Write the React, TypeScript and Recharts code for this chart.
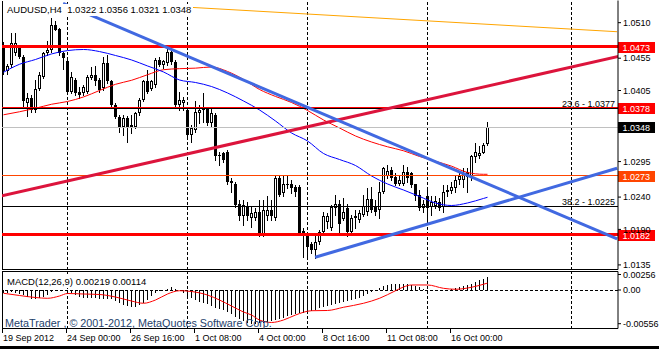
import React from "react";
import { Bar, ComposedChart, Line, ReferenceLine, XAxis, YAxis } from "recharts";

// AUDUSD H4 candles
const OPEN = [
  1.0474, 1.0435, 1.0444, 1.0463, 1.0473, 1.0457, 1.0386, 1.0394, 1.0375, 1.0408,
  1.0426, 1.0463, 1.0468, 1.0506, 1.05, 1.0463, 1.045, 1.0403, 1.0421, 1.0403,
  1.0401, 1.0403, 1.0424, 1.0429, 1.0421, 1.0409, 1.0448, 1.0419, 1.0383, 1.0364,
  1.0349, 1.0362, 1.0352, 1.0349, 1.037, 1.039, 1.0419, 1.0408, 1.0414, 1.0452,
  1.0444, 1.0448, 1.0465, 1.0449, 1.0383, 1.0386, 1.0375, 1.0336, 1.0344, 1.037,
  1.0375, 1.0377, 1.0354, 1.0367, 1.0303, 1.0308, 1.031, 1.0265, 1.026, 1.023,
  1.021, 1.0225, 1.0207, 1.0207, 1.0217, 1.0181, 1.021, 1.022, 1.0207, 1.0269,
  1.0246, 1.0259, 1.0261, 1.0256, 1.0256, 1.0188, 1.0179, 1.0168, 1.0158, 1.0171,
  1.0186, 1.0202, 1.0192, 1.0223, 1.023, 1.0206, 1.0223, 1.0186, 1.0207, 1.0205,
  1.0212, 1.0217, 1.0237, 1.0225, 1.022, 1.0248, 1.0273, 1.0282, 1.0271, 1.0261,
  1.0261, 1.0279, 1.0277, 1.026, 1.0243, 1.0223, 1.0242, 1.0225, 1.0226, 1.0233,
  1.0224, 1.0248, 1.025, 1.0254, 1.0266, 1.0266, 1.0279, 1.0271, 1.0302, 1.0303,
  1.0309, 1.0322,
];
const HIGH = [
  1.048, 1.0446, 1.0494, 1.0494, 1.0475, 1.046, 1.0401, 1.0398, 1.0421, 1.0434,
  1.0465, 1.0481, 1.0517, 1.0512, 1.0502, 1.0465, 1.0455, 1.0434, 1.0424, 1.0411,
  1.0414, 1.0429, 1.0442, 1.0443, 1.0424, 1.0457, 1.046, 1.0421, 1.0386, 1.0367,
  1.0367, 1.0366, 1.0367, 1.0372, 1.0393, 1.0421, 1.0437, 1.0421, 1.0455, 1.0457,
  1.0452, 1.0474, 1.0471, 1.0452, 1.0403, 1.0395, 1.0378, 1.0352, 1.0388, 1.0383,
  1.0401, 1.038, 1.038, 1.037, 1.031, 1.031, 1.0313, 1.027, 1.0264, 1.0236,
  1.0236, 1.0233, 1.0225, 1.0223, 1.0236, 1.0236, 1.0241, 1.0236, 1.0272, 1.0272,
  1.0272, 1.0272, 1.0266, 1.0259, 1.0259, 1.0192, 1.0181, 1.0171, 1.0184, 1.0189,
  1.0217, 1.0215, 1.0228, 1.0243, 1.0236, 1.0238, 1.023, 1.0212, 1.022, 1.022,
  1.0243, 1.0254, 1.0256, 1.0236, 1.0264, 1.0287, 1.029, 1.0287, 1.0277, 1.0274,
  1.029, 1.0287, 1.0279, 1.0261, 1.0251, 1.0236, 1.0251, 1.0241, 1.0241, 1.0238,
  1.0259, 1.0259, 1.0264, 1.0274, 1.0279, 1.0285, 1.0285, 1.0305, 1.0323, 1.0319,
  1.0323, 1.0356,
];
const LOW = [
  1.0431, 1.0431, 1.0441, 1.046, 1.0455, 1.038, 1.0366, 1.0372, 1.0372, 1.0406,
  1.0424, 1.046, 1.0465, 1.0498, 1.046, 1.0439, 1.0403, 1.0401, 1.0398, 1.0394,
  1.0398, 1.0401, 1.0423, 1.0414, 1.0403, 1.0406, 1.0417, 1.038, 1.0362, 1.0341,
  1.0336, 1.0326, 1.0339, 1.0347, 1.0367, 1.0388, 1.0401, 1.0406, 1.0411, 1.0443,
  1.044, 1.0444, 1.0446, 1.038, 1.0375, 1.0375, 1.0333, 1.0326, 1.0341, 1.0354,
  1.0357, 1.0352, 1.0349, 1.0297, 1.029, 1.0295, 1.0261, 1.0248, 1.0225, 1.0205,
  1.0197, 1.0205, 1.0194, 1.0205, 1.018, 1.0179, 1.0205, 1.0205, 1.0205, 1.0241,
  1.0241, 1.0254, 1.0246, 1.0241, 1.0181, 1.0148, 1.0148, 1.0153, 1.0145, 1.0168,
  1.0184, 1.0192, 1.0189, 1.0212, 1.0184, 1.0205, 1.0179, 1.0184, 1.0192, 1.0202,
  1.021, 1.0212, 1.0217, 1.0212, 1.0207, 1.0246, 1.0269, 1.0266, 1.0259, 1.0259,
  1.0259, 1.0264, 1.0256, 1.0236, 1.022, 1.0217, 1.0199, 1.0212, 1.0223, 1.022,
  1.0217, 1.0241, 1.0246, 1.0248, 1.0261, 1.0256, 1.0248, 1.0266, 1.0295, 1.0301,
  1.0308, 1.0321,
];
const CLOSE = [
  1.0435, 1.0443, 1.0479, 1.0479, 1.0457, 1.0388, 1.0394, 1.0375, 1.0408, 1.0429,
  1.0463, 1.0468, 1.0506, 1.0499, 1.0463, 1.0455, 1.0403, 1.0426, 1.0401, 1.0398,
  1.0411, 1.0426, 1.0429, 1.0419, 1.0406, 1.0448, 1.0419, 1.0383, 1.0364, 1.0349,
  1.0362, 1.0347, 1.0349, 1.037, 1.039, 1.0419, 1.0403, 1.0419, 1.0452, 1.0444,
  1.045, 1.0465, 1.0449, 1.0383, 1.039, 1.039, 1.0336, 1.0347, 1.0372, 1.0375,
  1.0377, 1.0354, 1.037, 1.0303, 1.0305, 1.0297, 1.0264, 1.0262, 1.0228, 1.021,
  1.0227, 1.021, 1.0215, 1.0217, 1.0181, 1.022, 1.022, 1.021, 1.0269, 1.0243,
  1.0261, 1.0261, 1.0254, 1.0248, 1.0184, 1.0181, 1.0163, 1.0158, 1.0171, 1.0186,
  1.021, 1.021, 1.0225, 1.023, 1.0199, 1.0217, 1.0186, 1.0207, 1.021, 1.0215,
  1.0226, 1.0237, 1.022, 1.0217, 1.0248, 1.0285, 1.0281, 1.0269, 1.0261, 1.0266,
  1.0279, 1.0269, 1.0259, 1.0241, 1.0223, 1.023, 1.0223, 1.0233, 1.0234, 1.0223,
  1.0248, 1.0251, 1.0255, 1.0266, 1.0273, 1.0278, 1.0271, 1.0303, 1.031, 1.0309,
  1.0321, 1.0348,
];

// moving averages, read every 4th bar
const MA_BARS = [0, 4, 8, 12, 16, 20, 24, 28, 32, 36, 40, 44, 48, 52, 56, 60, 64, 68, 72, 76, 80, 84, 88, 92, 96, 100, 104, 108, 112, 116, 120, 121];
const MA_BLUE = [
  1.04332, 1.04456, 1.0453, 1.04616, 1.04668, 1.04685, 1.04653, 1.04592, 1.04523, 1.0443,
  1.04337, 1.04213, 1.04174, 1.04112, 1.04012, 1.03888, 1.03749, 1.03578, 1.03393, 1.03269,
  1.03075, 1.02982, 1.02889, 1.02727, 1.02603, 1.0251, 1.0241, 1.02309, 1.0227, 1.02309,
  1.02379, 1.02397,
];
const MA_RED = [
  1.03674, 1.03721, 1.03775, 1.03837, 1.0388, 1.0395, 1.0405, 1.04146, 1.04208, 1.04294,
  1.04372, 1.04388, 1.04396, 1.04414, 1.04345, 1.04221, 1.04066, 1.03958, 1.03865, 1.03741,
  1.03594, 1.0347, 1.03346, 1.03253, 1.03179, 1.03117, 1.03029, 1.02955, 1.02879, 1.02781,
  1.02753, 1.02753,
];

// MACD(12,26,9) main values per bar and the signal line
const MACD = [
  -0.0005, -0.0005, -0.0004, -0.00045, -0.0006, -0.00083, -0.00116, -0.00149, -0.00149, -0.00132,
  -0.00116, -0.00083, -0.00033, -0.00017, -0.00008, -0.00008, -0.00017, -0.0005, -0.00083, -0.00116,
  -0.00132, -0.00132, -0.00132, -0.00132, -0.00149, -0.00149, -0.00149, -0.00149, -0.00182, -0.00215,
  -0.00248, -0.00264, -0.00281, -0.00281, -0.00248, -0.00215, -0.00165, -0.00099, -0.0005, -0.00017,
  0, 0.00017, 0.0005, 0.00017, -0.00008, -0.0005, -0.00099, -0.00132, -0.00165, -0.00198,
  -0.00215, -0.00231, -0.00264, -0.00297, -0.00314, -0.0033, -0.00363, -0.00396, -0.00446, -0.00479,
  -0.00512, -0.00545, -0.00556, -0.00553, -0.00548, -0.00545, -0.00528, -0.00512, -0.00495, -0.00479,
  -0.00462, -0.00429, -0.00413, -0.00396, -0.0038, -0.0038, -0.00363, -0.00347, -0.0033, -0.00297,
  -0.00281, -0.00264, -0.00248, -0.00231, -0.00215, -0.00198, -0.00182, -0.00165, -0.00149, -0.00132,
  -0.00099, -0.00066, -0.00033, 0, 0.00033, 0.00066, 0.00083, 0.00099, 0.00099, 0.00099,
  0.00099, 0.00099, 0.00083, 0.00066, 0.0005, 0.00017, 0, -0.00008, -0.00008, 0,
  0, 0.00008, 0.00017, 0.00033, 0.0005, 0.00066, 0.00083, 0.00099, 0.00132, 0.00165,
  0.00182, 0.00219,
];
const SIGNAL_BARS = [0, 4, 8, 11, 14, 16, 20, 24, 28, 32, 35, 38, 41, 44, 47, 51, 54, 57, 60, 62, 64, 67, 70, 73, 77, 81, 85, 90, 94, 98, 100, 102, 106, 110, 113, 117, 121];
const SIGNAL = [
  -0.00054, -0.00091, -0.00124, -0.00137, -0.00099, -0.00058, -0.00066, -0.00074, -0.00116, -0.00182,
  -0.00219, -0.00165, -0.00066, -0.00012, -0.00025, -0.00083, -0.00165, -0.00264, -0.00363, -0.00413,
  -0.00495, -0.00536, -0.00495, -0.00413, -0.00342, -0.00338, -0.00285, -0.00219, -0.00137, -0.00012,
  0.0005, 0.00083, 0.00083, 0.00028, 0.00012, 0.00045, 0.00114,
];

// drawn objects: [bar, price] end points and horizontal levels
const ORANGE_LINE = [[46.6, 1.05338], [153.4, 1.0496]];
const BLUE_UPPER = [[14.9, 1.05398], [153.4, 1.01753]];
const BLUE_LOWER = [[77.9, 1.01468], [153.4, 1.02846]];
const CRIMSON_LINE = [[-0.4, 1.02419], [153.7, 1.04577]];
const RESISTANCE = 1.0473;
const SUPPORT = 1.0182;
const RED_LEVEL = 1.0378;
const ORANGE_LEVEL = 1.0273;
const FIB_LEVELS = [1.0377, 1.0225];
const FIB_NAMES = ["23.6", "38.2"];

const PRICE_TICKS = [1.051, 1.0455, 1.0405, 1.0295, 1.024, 1.019, 1.0135];
const MACD_TICKS = [0.00256, 0, -0.00556];
const TIME_TICK_BARS = [0, 16, 32, 48, 64, 80, 96, 112];
const TIME_LABELS = ["19 Sep 2012", "24 Sep 00:00", "26 Sep 16:00", "1 Oct 08:00", "4 Oct 00:00", "8 Oct 16:00", "11 Oct 08:00", "16 Oct 00:00"];
const GRID_BARS = [16, 46, 76, 106, 142];

const X_MIN = -0.375;
const X_MAX = 153.625;
const P_MIN = 1.012791;
const P_MAX = 1.054433;
const M_MIN = -0.0063525;
const M_MAX = 0.0030525;
const FONT = "'Liberation Sans', Arial, sans-serif";

const rows = OPEN.map((open, i) => {
  const row: any = { i, open, high: HIGH[i], low: LOW[i], close: CLOSE[i], range: [LOW[i], HIGH[i]], macd: MACD[i] };
  const m = MA_BARS.indexOf(i);
  if (m >= 0) {
    row.maBlue = MA_BLUE[m];
    row.maRed = MA_RED[m];
  }
  const s = SIGNAL_BARS.indexOf(i);
  if (s >= 0) row.signal = SIGNAL[s];
  return row;
});
const last = rows[rows.length - 1];

function Candle(props: any) {
  const { x, y, width, height, payload } = props;
  if (!payload || !isFinite(y) || !isFinite(height)) return null;
  const cx = x + width / 2;
  const span = payload.high - payload.low;
  const toY = (v: number) => y + (span > 0 ? ((payload.high - v) / span) * height : 0);
  const wickTop = Math.round(y);
  const wickBot = Math.round(y + height) + 1;
  const top = Math.round(toY(Math.max(payload.open, payload.close)));
  const bot = Math.max(top + 1, Math.round(toY(Math.min(payload.open, payload.close))));
  const bull = payload.close >= payload.open;
  return (
    <g shapeRendering="crispEdges">
      <line x1={cx} x2={cx} y1={wickTop} y2={wickBot} stroke="#000" />
      {bot - top < 3 ? (
        <rect x={cx - 1.5} y={top} width={3} height={bot - top} fill="#000" />
      ) : bull ? (
        <rect x={cx - 1} y={top + 0.5} width={2} height={bot - top - 1} fill="#fff" stroke="#000" />
      ) : (
        <rect x={cx - 1.5} y={top} width={3} height={bot - top} fill="#000" />
      )}
    </g>
  );
}

function HistBar(props: any) {
  const { x, y, width, height } = props;
  if (!height || !isFinite(y)) return null;
  return <rect x={x} y={Math.min(y, y + height)} width={width} height={Math.abs(height)} fill="#000" shapeRendering="crispEdges" />;
}

function TimeTick(props: any) {
  const { x, y, payload } = props;
  const label = TIME_LABELS[TIME_TICK_BARS.indexOf(payload.value)];
  return (
    <g>
      <line x1={x - 1} x2={x - 1} y1={y} y2={y + 4} stroke="#000" shapeRendering="crispEdges" />
      <text x={x - 0.5} y={y + 12.5} fontSize={9} fontFamily={FONT} fill="#000">{label}</text>
    </g>
  );
}

const priceTag = (text: string, bg: string) => (props: any) => {
  const vb = props.viewBox;
  if (!vb) return null;
  const cy = Math.round(vb.y);
  const x0 = vb.x + vb.width;
  return (
    <g>
      <rect x={x0} y={cy - 5} width={37} height={11} fill={bg} shapeRendering="crispEdges" />
      <text x={x0 + 4.5} y={cy + 3.5} fill="#fff" fontSize={9} fontFamily={FONT}>{text}</text>
    </g>
  );
};

const fibTag = (text: string) => (props: any) => {
  const vb = props.viewBox;
  if (!vb) return null;
  return (
    <text x={vb.x + vb.width - 3} y={vb.y - 2} textAnchor="end" fill="#000" fontSize={9} fontFamily={FONT}>{text}</text>
  );
};

const seg = (pts: number[][]) => pts.map(([x, y]) => ({ x, y }));

export default function App() {
  const axisTick = { fill: "#000", fontSize: 9, fontFamily: FONT };
  return (
    <div style={{ position: "absolute", left: 0, top: 0, width: 659, height: 349, background: "#fff", overflow: "hidden" }}>
      <div style={{ position: "absolute", left: 0, top: 0 }}>
        <ComposedChart width={659} height={271} data={rows} margin={{ top: 0.5, right: 0, bottom: 1.5, left: 2 }}>
          <XAxis type="number" dataKey="i" domain={[X_MIN, X_MAX]} allowDataOverflow hide height={0} />
          <YAxis
            orientation="right"
            type="number"
            domain={[P_MIN, P_MAX]}
            allowDataOverflow
            width={41}
            ticks={PRICE_TICKS}
            interval={0}
            tickSize={3}
            tickMargin={2}
            tick={axisTick}
            tickFormatter={(v: number) => v.toFixed(4)}
            axisLine={{ stroke: "#000" }}
            tickLine={{ stroke: "#000" }}
          />
          {GRID_BARS.map((b) => (
            <ReferenceLine key={b} x={b} stroke="#000" strokeDasharray="3 2" shapeRendering="crispEdges" />
          ))}
          <ReferenceLine x={X_MIN + 0.125} stroke="#000" shapeRendering="crispEdges" />
          <ReferenceLine y={P_MIN} stroke="#000" shapeRendering="crispEdges" />
          <Bar dataKey="range" barSize={3} shape={(p: any) => <Candle {...p} />} isAnimationActive={false} />
          <Line dataKey="maRed" type="monotone" stroke="#ff0000" strokeWidth={1} dot={false} connectNulls isAnimationActive={false} />
          <Line dataKey="maBlue" type="monotone" stroke="#0000ff" strokeWidth={1} dot={false} connectNulls isAnimationActive={false} />
          <ReferenceLine y={last.close} stroke="#c0c0c0" shapeRendering="crispEdges" label={priceTag(last.close.toFixed(4), "#000")} />
          <ReferenceLine y={ORANGE_LEVEL} stroke="#ff4500" shapeRendering="crispEdges" label={priceTag(ORANGE_LEVEL.toFixed(4), "#ff4500")} />
          <ReferenceLine y={FIB_LEVELS[0]} stroke="#000" shapeRendering="crispEdges" label={fibTag(`${FIB_NAMES[0]} - ${FIB_LEVELS[0].toFixed(4)}`)} />
          <ReferenceLine y={FIB_LEVELS[1]} stroke="#000" shapeRendering="crispEdges" label={fibTag(`${FIB_NAMES[1]} - ${FIB_LEVELS[1].toFixed(4)}`)} />
          <ReferenceLine y={RED_LEVEL} stroke="#ff0000" shapeRendering="crispEdges" label={priceTag(RED_LEVEL.toFixed(4), "#ff0000")} />
          <ReferenceLine y={RESISTANCE} stroke="#ff0000" strokeWidth={3} shapeRendering="crispEdges" label={priceTag(RESISTANCE.toFixed(4), "#ff0000")} />
          <ReferenceLine y={SUPPORT} stroke="#ff0000" strokeWidth={3} shapeRendering="crispEdges" label={priceTag(SUPPORT.toFixed(4), "#ff0000")} />
          <ReferenceLine segment={seg(ORANGE_LINE)} stroke="#ffa500" strokeWidth={1} ifOverflow="hidden" />
          <ReferenceLine segment={seg(CRIMSON_LINE)} stroke="#dc143c" strokeWidth={3} ifOverflow="hidden" />
          <ReferenceLine segment={seg(BLUE_UPPER)} stroke="#4169e1" strokeWidth={3} ifOverflow="hidden" />
          <ReferenceLine segment={seg(BLUE_LOWER)} stroke="#4169e1" strokeWidth={3} ifOverflow="hidden" />
        </ComposedChart>
      </div>
      <div style={{ position: "absolute", left: 0, top: 270 }}>
        <ComposedChart width={659} height={79} data={rows} margin={{ top: 1.5, right: 0, bottom: 0, left: 2 }}>
          <XAxis
            type="number"
            dataKey="i"
            domain={[X_MIN, X_MAX]}
            allowDataOverflow
            ticks={TIME_TICK_BARS}
            interval={0}
            height={20.5}
            tickSize={0}
            tickMargin={0}
            tickLine={false}
            tick={(p: any) => <TimeTick {...p} />}
            axisLine={{ stroke: "#000" }}
          />
          <YAxis
            orientation="right"
            type="number"
            domain={[M_MIN, M_MAX]}
            allowDataOverflow
            width={41}
            ticks={MACD_TICKS}
            interval={0}
            tickSize={3}
            tickMargin={2}
            tick={axisTick}
            tickFormatter={(v: number) => (v === 0 ? "0.00" : v.toFixed(5))}
            axisLine={{ stroke: "#000" }}
            tickLine={{ stroke: "#000" }}
          />
          {GRID_BARS.map((b) => (
            <ReferenceLine key={b} x={b} stroke="#000" strokeDasharray="3 2" shapeRendering="crispEdges" />
          ))}
          <ReferenceLine x={X_MIN + 0.125} stroke="#000" shapeRendering="crispEdges" />
          <ReferenceLine y={M_MAX} stroke="#000" shapeRendering="crispEdges" />
          <ReferenceLine y={0} stroke="#000" strokeDasharray="3 2" shapeRendering="crispEdges" />
          <Bar dataKey="macd" barSize={1} shape={(p: any) => <HistBar {...p} />} isAnimationActive={false} />
          <Line dataKey="signal" type="monotone" stroke="#ff0000" strokeWidth={1} dot={false} connectNulls isAnimationActive={false} />
        </ComposedChart>
      </div>
      <div style={{ position: "absolute", left: 5, top: 4.4, height: 12, padding: "0 2px", background: "#fff", fontFamily: FONT, fontSize: 9.5, lineHeight: "12px", whiteSpace: "pre", color: "#000" }}>
        {`AUDUSD,H4  ${last.open.toFixed(4)} ${last.high.toFixed(4)} ${last.low.toFixed(4)} ${last.close.toFixed(4)}`}
      </div>
      <div style={{ position: "absolute", left: 5, top: 276.3, height: 12, padding: "0 2px", background: "#fff", fontFamily: FONT, fontSize: 9.5, lineHeight: "12px", whiteSpace: "pre", color: "#000" }}>
        {`MACD(12,26,9) ${last.macd.toFixed(5)} ${SIGNAL[SIGNAL.length - 1].toFixed(5)}`}
      </div>
      <div style={{ position: "absolute", left: 5, top: 316.9, fontFamily: FONT, fontSize: 10.8, lineHeight: "13px", whiteSpace: "pre", color: "#23416b" }}>
        MetaTrader , © 2001-2012, MetaQuotes Software Corp.
      </div>
      <div style={{ position: "absolute", left: 0, top: 346, width: 659, height: 3, background: "#000" }} />
    </div>
  );
}
